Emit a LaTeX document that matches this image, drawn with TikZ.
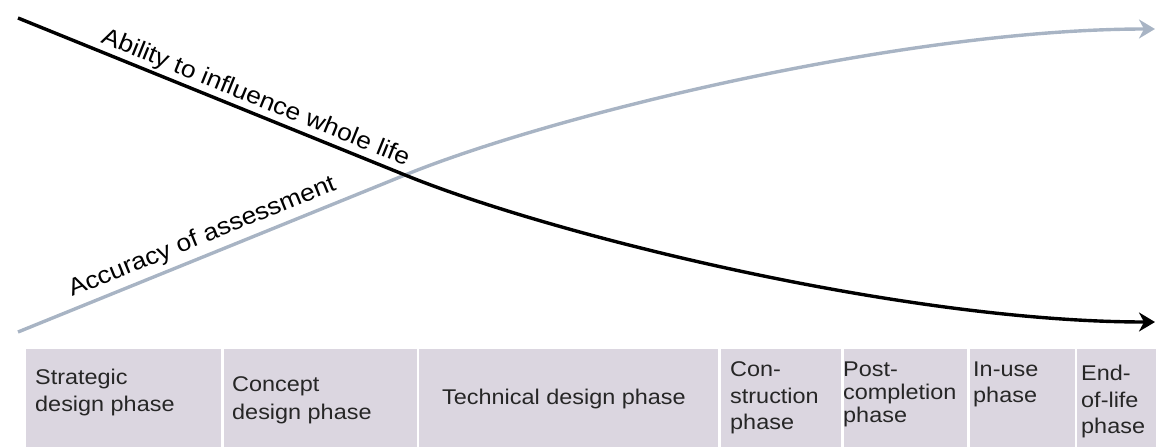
\documentclass[tikz,border=0pt]{standalone}
\usepackage{fontspec}
\setmainfont{Liberation Sans}[FakeStretch=1.1]
\usetikzlibrary{arrows.meta}
\definecolor{curvegray}{HTML}{A8B4C4}
\definecolor{boxfill}{HTML}{DBD6E0}
\definecolor{boxtext}{HTML}{262626}
\begin{document}
\begin{tikzpicture}[x=1pt,y=-1pt,
  phasebox/.style={fill=boxfill, draw=none},
  phaselabel/.style={anchor=north west, inner sep=0pt, align=left, text=boxtext},
  curvelabel/.style={anchor=base west, inner sep=0pt, font=\fontsize{24}{28}\selectfont},
  influence/.style={line width=3.4pt, draw=black, -{Stealth[length=16pt,width=19pt,inset=5pt]}},
  accuracy/.style={line width=3.4pt, draw=curvegray, -{Stealth[length=16pt,width=19pt,inset=5pt]}}]
\useasboundingbox (0,0) rectangle (1156,447);
% phase boxes
\path[phasebox] (26,349) rectangle (221,447);
\path[phasebox] (224,349) rectangle (417,447);
\path[phasebox] (419,349) rectangle (718,447);
\path[phasebox] (721,349) rectangle (841,447);
\path[phasebox] (844,349) rectangle (967,447);
\path[phasebox] (970,349) rectangle (1075,447);
\path[phasebox] (1077,349) rectangle (1156,447);
% phase labels
\node[phaselabel, font=\fontsize{21.3}{27.5}\selectfont] (p1) at (35,368.5) {Strategic\\design phase};
\node[phaselabel, font=\fontsize{21.3}{28}\selectfont] (p2) at (232,376) {Concept\\design phase};
\node[phaselabel, font=\fontsize{21.3}{27}\selectfont] (p3) at (442,388.5) {Technical design phase};
\node[phaselabel, font=\fontsize{21.3}{26.7}\selectfont] (p4) at (730,361.5) {Con-\\struction\\phase};
\node[phaselabel, font=\fontsize{21.3}{23.3}\selectfont] (p5) at (843,361.5) {Post-\\completion\\phase};
\node[phaselabel, font=\fontsize{21.3}{26}\selectfont] (p6) at (973,361.5) {In-use\\phase};
\node[phaselabel, font=\fontsize{21.3}{26.5}\selectfont] (p7) at (1081,365) {End-\\of-life\\phase};
% curves
\coordinate (k0) at (18,18);
\coordinate (kx) at (405,175);
\coordinate (k1) at (1155,322);
\coordinate (g0) at (18,332);
\coordinate (g1) at (1155,29);
\draw[accuracy] (g0) -- (kx) .. controls (555,114) and (906,29) .. (g1);
\draw[influence] (k0) -- (kx) .. controls (555,236) and (906,322) .. (k1);
% curve labels
\node[curvelabel, rotate=-22.08] (inf) at (100,42) {Ability to influence whole life};
\node[curvelabel, rotate=22.08] (acc) at (72,297) {Accuracy of assessment};
\end{tikzpicture}
\end{document}
